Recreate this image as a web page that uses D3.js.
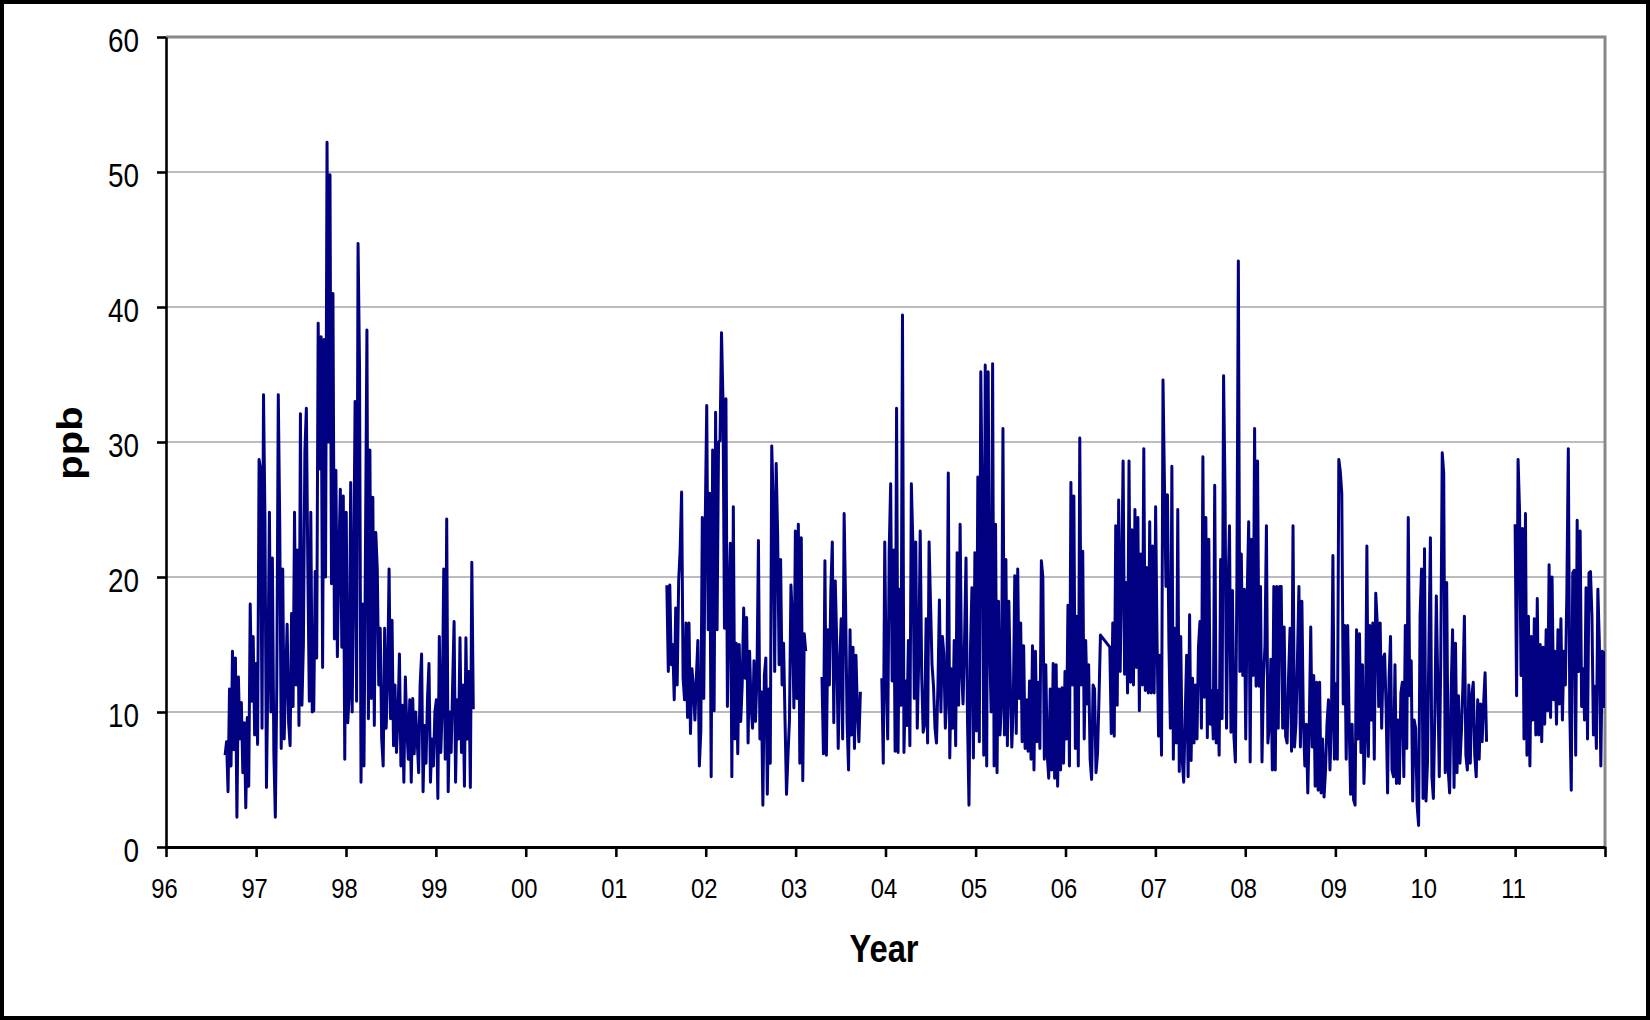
<!DOCTYPE html>
<html>
<head>
<meta charset="utf-8">
<title>ppb by year</title>
<script src="https://cdn.jsdelivr.net/npm/d3@7"></script>
<style>
  html, body { margin: 0; padding: 0; background: #fff; }
  svg { display: block; }
  text { font-family: "Liberation Sans", Arial, Helvetica, sans-serif; fill: #000; }
</style>
</head>
<body>
<svg id="chart" width="1650" height="1020"></svg>
<script>
// ---- data: one sample every 6 days, grouped into uninterrupted runs ----
const sampleStepDays = 6;
const maxJoinGapDays = 45;   // runs closer than this are joined by the line

const runStarts = ["1996-08-28", "2001-07-27", "2003-04-18", "2003-12-17", "2006-06-30", "2011-01-01"];

const run1996 = [
  6.8, 7.8, 4.1, 11.7, 6.0, 14.5, 7.2, 14.0, 2.2, 12.6, 8.0, 10.7, 5.5, 9.2, 2.9, 9.6, 4.5, 18.0, 10.8, 15.6,
  8.3, 13.6, 7.6, 28.7, 28.0, 8.8, 33.5, 24.0, 4.4, 13.0, 24.8, 10.0, 21.4, 7.0, 2.2, 12.0, 33.5, 23.8, 7.3, 20.6,
  8.0, 12.4, 16.5, 9.2, 7.5, 17.3, 10.4, 24.8, 12.0, 22.0, 9.0, 32.1, 10.5, 15.0, 29.3, 32.5, 20.6, 10.8, 24.8, 10.0,
  10.1, 20.4, 14.0, 38.8, 28.0, 37.8, 13.3, 37.6, 20.0, 52.2, 30.0, 49.8, 19.5, 41.0, 15.4, 27.9, 14.1, 21.5, 26.5, 14.8,
  26.0, 6.5, 24.8, 9.2, 11.2, 27.0, 10.0, 20.0, 33.0, 10.8, 44.7, 35.5, 4.8, 18.0, 6.0, 22.0, 38.3, 9.5, 29.4, 11.0,
  25.9, 9.0, 23.3, 20.6, 12.0, 16.2, 8.0, 6.0, 16.2, 8.8, 12.5, 20.6, 9.5, 16.8, 7.5, 12.0, 7.0, 9.5, 14.3, 6.0,
  10.5, 4.8, 12.6, 8.8, 6.5, 10.9, 4.8, 11.0, 6.9, 10.0, 8.0, 5.5, 12.0, 14.3, 4.1, 9.0, 6.2, 11.0, 13.6, 4.8,
  8.0, 6.0, 10.0, 10.9, 3.6, 15.6, 7.0, 10.5, 20.6, 6.5, 24.3, 4.1, 10.0, 7.0, 12.0, 16.7, 4.8, 10.9, 8.0, 15.5,
  7.0, 12.0, 4.5, 15.5, 8.0, 13.0, 4.4, 21.1, 10.2
];

const run2001 = [
  19.4, 13.0, 19.4, 13.5, 15.0, 10.9, 17.7, 12.0, 19.7, 22.0, 26.3, 12.5, 10.9, 16.6, 9.6, 16.6, 8.4, 13.2, 11.9, 9.4,
  12.6, 15.3, 6.0, 8.6, 24.4, 11.0, 24.2, 32.7, 16.1, 26.2, 5.2, 29.4, 10.1, 32.2, 16.1, 30.0, 30.1, 38.1, 33.1, 16.2,
  33.2, 10.4, 18.2, 22.5, 5.2, 25.2, 8.0, 15.1, 6.9, 15.0, 9.3, 12.0, 17.7, 12.5, 17.0, 7.7, 14.5, 10.5, 8.8, 13.8,
  9.3, 12.6, 22.7, 8.0, 11.5, 3.1, 12.7, 14.0, 3.9, 11.7, 6.2, 29.7, 25.5, 13.0, 28.4, 23.1, 13.5, 21.3, 12.0, 15.1,
  9.4, 3.9, 6.8, 9.4, 19.4, 16.9, 10.3, 23.4, 11.0, 23.9, 6.2, 22.9, 4.9, 15.8, 14.5
];

const run2003a = [
  12.6, 6.9, 21.2, 6.8, 16.1, 12.0, 19.0, 22.6, 9.2, 19.7, 15.1, 7.3, 13.5, 16.9, 8.0, 24.7, 17.9, 9.2, 5.7, 16.1,
  8.3, 14.8, 7.3, 14.2, 10.1, 7.8, 11.5
];

const run2003b = [
  12.5, 6.2, 22.6, 12.3, 8.0, 22.0, 26.9, 12.3, 22.0, 7.1, 32.5, 7.0, 19.1, 10.5, 39.4, 7.0, 12.3, 9.0, 15.3, 7.5,
  26.9, 22.6, 11.0, 22.6, 8.8, 14.0, 23.4, 12.7, 8.5, 9.1, 16.9, 7.7, 22.6, 17.9, 13.5, 11.9, 8.8, 7.7, 12.0, 18.3,
  10.0, 15.6, 14.3, 8.8, 11.0, 27.7, 6.6, 13.2, 8.8, 15.3, 7.5, 21.8, 10.5, 23.9, 13.0, 10.6, 15.3, 21.4, 9.4, 3.1,
  14.5, 19.2, 6.6, 21.8, 8.6, 27.4, 7.8, 35.2, 25.2, 6.8, 35.7, 6.0, 35.2, 15.1, 10.0, 35.8, 6.0, 23.9, 5.5, 18.2,
  8.3, 10.6, 31.0, 8.3, 21.3, 7.5, 18.2, 12.0, 7.4, 10.6, 20.1, 8.4, 20.6, 11.0, 16.6, 7.8, 14.9, 7.3, 10.9, 7.1,
  12.3, 6.5, 14.9, 5.7, 14.5, 7.8, 12.2, 7.3, 21.2, 20.0, 6.5, 13.5, 6.8, 5.1, 11.7, 5.7, 13.6, 5.1, 13.5, 4.5,
  11.7, 5.7, 11.8, 6.2, 13.0, 8.0, 17.9, 6.0, 27.0, 12.0, 26.0, 7.3, 17.1, 6.0, 30.3, 12.0, 21.9, 8.0, 15.3, 10.6,
  13.5, 6.5, 5.0, 12.0, 11.7, 5.5, 6.9, 11.0, 15.7
];

const run2006 = [
  14.8, 8.4, 16.6, 8.2, 23.8, 10.5, 25.7, 13.0, 20.0, 28.6, 12.8, 19.6, 11.4, 28.6, 12.2, 23.5, 12.0, 25.0, 13.3, 24.4,
  10.1, 21.7, 12.0, 29.5, 11.6, 20.7, 11.4, 24.1, 11.4, 22.3, 11.4, 25.2, 15.0, 8.2, 14.2, 6.8, 34.6, 26.8, 19.3, 26.1,
  15.0, 8.8, 28.2, 6.5, 16.2, 7.7, 25.0, 5.6, 15.6, 6.5, 4.8, 9.6, 14.2, 5.2, 17.2, 6.4, 12.5, 7.7, 12.0, 8.0,
  14.8, 16.7, 8.8, 28.9, 11.1, 24.4, 8.1, 22.8, 9.1, 11.6, 8.0, 26.8, 7.7, 11.6, 6.8, 21.3, 9.5, 34.9, 26.2, 8.8,
  19.0, 23.8, 8.5, 19.0, 8.2, 6.3, 19.6, 43.4, 13.0, 21.7, 12.7, 19.1, 8.0, 18.7, 24.1, 6.3, 22.8, 12.7, 31.0, 11.9,
  28.6, 11.9, 19.3, 6.3, 12.5, 14.9, 23.8, 7.7, 9.1, 13.9, 5.7, 19.3, 5.7, 19.3, 8.8, 19.3, 19.3, 8.8, 16.3, 8.2,
  7.7, 12.7, 16.2, 7.1, 23.8, 7.4, 9.1, 13.9, 19.3, 7.4, 18.2, 9.4, 6.0, 9.1, 4.0, 9.1, 16.3, 7.4, 12.7, 4.5,
  12.2, 4.2, 12.2, 4.0, 8.0, 3.7, 5.7, 9.1, 10.9, 5.7, 9.4, 21.6, 6.5, 12.1, 6.5, 28.7, 27.8, 26.2, 10.6, 16.4,
  6.5, 16.4, 9.1, 3.9, 9.1, 3.5, 3.1, 16.1, 8.0, 15.8, 7.0, 13.5, 4.7, 8.3, 22.3, 6.7, 16.4, 9.4, 16.6, 6.5,
  18.8, 16.6, 10.4, 16.6, 8.8, 14.0, 14.3, 10.4, 4.0, 12.5, 15.6, 5.7, 5.2, 13.5, 4.7, 9.4, 4.7, 11.4, 12.2, 5.2,
  16.4, 7.3, 24.4, 11.2, 13.8, 3.4, 9.4, 8.8, 3.1, 1.6, 17.1, 20.6, 3.6, 22.1, 3.4, 6.2, 15.1, 22.9, 5.2, 3.6,
  9.9, 18.6, 11.9, 5.2, 13.8, 29.2, 27.7, 5.5, 19.6, 5.8, 4.0, 11.4, 16.1, 4.4, 15.1, 5.5, 11.2, 6.2, 8.6, 12.0,
  17.1, 6.8, 5.7, 12.0, 6.2, 11.2, 12.2, 6.8, 5.2, 10.9, 6.5, 10.6, 7.8, 10.6, 12.9, 7.8
];

const run2011 = [
  23.9, 11.2, 28.7, 24.9, 12.7, 23.6, 8.0, 24.7, 6.8, 17.1, 6.0, 15.6, 9.4, 16.9, 8.3, 18.4, 8.3, 15.0, 7.8, 14.8,
  9.1, 16.1, 10.1, 20.9, 9.6, 20.0, 10.9, 14.5, 9.1, 16.1, 10.6, 16.9, 9.4, 14.5, 12.0, 18.8, 29.5, 10.1, 4.2, 20.3,
  20.5, 6.8, 24.2, 13.0, 23.4, 10.4, 13.2, 9.4, 19.2, 8.0, 20.3, 20.4, 17.1, 8.3, 11.9, 7.3, 19.1, 15.2, 6.0, 14.5,
  10.4, 14.5
];

const runValues = [run1996, run2001, run2003a, run2003b, run2006, run2011];

// ---- axes content ----
const yTickValues = [0, 10, 20, 30, 40, 50, 60];
const yGridValues = [10, 20, 30, 40, 50];
const xTickYears = [1996, 1997, 1998, 1999, 2000, 2001, 2002, 2003, 2004, 2005, 2006, 2007, 2008, 2009, 2010, 2011, 2012];
const xUnlabelledYears = [2012];
const xAxisTitle = "Year";
const yAxisTitle = "ppb";

// ---- layout ----
const W = 1650, H = 1020;
const plot = { left: 166, right: 1605, top: 37, bottom: 847 };

const svg = d3.select("#chart");

// page frame
svg.append("rect")
  .attr("x", 2).attr("y", 2).attr("width", W - 4).attr("height", H - 4)
  .attr("fill", "#fff").attr("stroke", "#000").attr("stroke-width", 4);

const parseDay = d3.utcParse("%Y-%m-%d");

const x = d3.scaleUtc()
  .domain([new Date(Date.UTC(xTickYears[0], 0, 1)), new Date(Date.UTC(xTickYears[xTickYears.length - 1], 0, 1))])
  .range([plot.left, plot.right]);

const y = d3.scaleLinear()
  .domain([yTickValues[0], yTickValues[yTickValues.length - 1]])
  .range([plot.bottom, plot.top]);

// build the sampled points; a null breaks the line between distant runs
const points = [];
let prevDate = null;
runValues.forEach((vals, r) => {
  const start = parseDay(runStarts[r]);
  vals.forEach((v, i) => {
    const date = d3.utcDay.offset(start, i * sampleStepDays);
    if (i === 0 && prevDate && (date - prevDate) / 864e5 > maxJoinGapDays) points.push(null);
    points.push({ date, value: v });
    prevDate = date;
  });
});

// horizontal gridlines
svg.append("g")
  .selectAll("line")
  .data(yGridValues)
  .join("line")
  .attr("x1", plot.left).attr("x2", plot.right)
  .attr("y1", d => y(d)).attr("y2", d => y(d))
  .attr("stroke", "#a6a6a6").attr("stroke-width", 1.4);

// top and right edges of the plot area
svg.append("path")
  .attr("d", `M${plot.left},${y(60)}H${plot.right}V${plot.bottom}`)
  .attr("fill", "none").attr("stroke", "#888").attr("stroke-width", 3);

// clip for the series
svg.append("clipPath").attr("id", "plotClip")
  .append("rect")
  .attr("x", plot.left).attr("y", plot.top)
  .attr("width", plot.right - plot.left).attr("height", plot.bottom - plot.top);

const line = d3.line()
  .defined(d => d !== null)
  .x(d => x(d.date))
  .y(d => y(d.value));

svg.append("path")
  .datum(points)
  .attr("clip-path", "url(#plotClip)")
  .attr("d", line)
  .attr("fill", "none")
  .attr("stroke", "#000080")
  .attr("stroke-width", 3)
  .attr("stroke-linejoin", "round");

// y axis
const yAxis = d3.axisLeft(y)
  .tickValues(yTickValues)
  .tickSize(9)
  .tickSizeOuter(0)
  .tickFormat(d3.format("d"));

const gy = svg.append("g")
  .attr("transform", `translate(${plot.left},0)`)
  .call(yAxis);
gy.select(".domain").attr("stroke", "#000").attr("stroke-width", 2.6);
gy.selectAll(".tick line").attr("stroke", "#000").attr("stroke-width", 2.6);
gy.selectAll(".tick text")
  .attr("x", 0).attr("dy", "0.43em")
  .attr("transform", "translate(-27,0) scale(0.82,1)")
  .style("font-size", "34px")
  .style("font-family", '"Liberation Sans", Arial, sans-serif')
  .attr("fill", "#000");

// x axis
const xAxis = d3.axisBottom(x)
  .tickValues(xTickYears.map(yr => new Date(Date.UTC(yr, 0, 1))))
  .tickSize(10)
  .tickSizeOuter(0)
  .tickFormat(d => xUnlabelledYears.includes(d.getUTCFullYear()) ? "" : d3.utcFormat("%y")(d));

const gx = svg.append("g")
  .attr("transform", `translate(0,${plot.bottom})`)
  .call(xAxis);
gx.select(".domain").attr("stroke", "#000").attr("stroke-width", 3.2);
gx.selectAll(".tick line").attr("stroke", "#000").attr("stroke-width", 2.6);
gx.selectAll(".tick text")
  .attr("y", 0).attr("dy", 0)
  .attr("transform", "translate(-2,51) scale(0.88,1)")
  .style("font-size", "27px")
  .style("font-family", '"Liberation Sans", Arial, sans-serif')
  .attr("fill", "#000");

// axis titles
svg.append("text")
  .attr("transform", "translate(884,962) scale(0.84,1)")
  .attr("text-anchor", "middle")
  .style("font-size", "39px")
  .style("font-weight", "bold")
  .text(xAxisTitle);

svg.append("text")
  .attr("transform", "translate(82,443) scale(0.87,1) rotate(-90)")
  .attr("text-anchor", "middle")
  .style("font-size", "40px")
  .style("font-weight", "bold")
  .text(yAxisTitle);
</script>
</body>
</html>
